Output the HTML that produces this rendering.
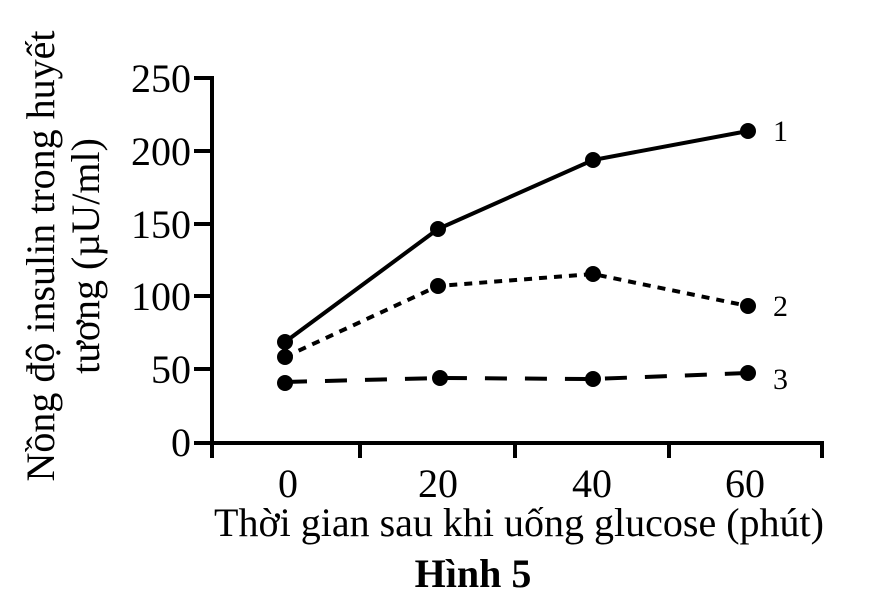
<!DOCTYPE html>
<html><head><style>body{margin:0;background:#fff}svg{display:block}</style></head><body>
<svg width="873" height="615" xmlns="http://www.w3.org/2000/svg" font-family="Liberation Serif, serif" fill="#000">
<g stroke="#000" stroke-width="4" fill="none">
<line x1="212" y1="76" x2="212" y2="445"/>
<line x1="194" y1="443" x2="824" y2="443"/>
<line x1="194" y1="78" x2="212" y2="78"/>
<line x1="194" y1="151" x2="212" y2="151"/>
<line x1="194" y1="224" x2="212" y2="224"/>
<line x1="194" y1="296" x2="212" y2="296"/>
<line x1="194" y1="369" x2="212" y2="369"/>
<line x1="212" y1="443" x2="212" y2="458"/>
<line x1="360" y1="443" x2="360" y2="458"/>
<line x1="515" y1="443" x2="515" y2="458"/>
<line x1="669" y1="443" x2="669" y2="458"/>
<line x1="822" y1="443" x2="822" y2="458"/>
</g>
<g font-size="40" text-anchor="end">
<text x="191" y="92">250</text><text x="191" y="165">200</text><text x="191" y="238">150</text>
<text x="191" y="310">100</text><text x="191" y="383">50</text><text x="191" y="456">0</text>
</g>
<g font-size="40" text-anchor="middle">
<text x="288" y="497">0</text><text x="438" y="497">20</text><text x="592" y="497">40</text><text x="745" y="497">60</text>
<text x="519" y="536">Thời gian sau khi uống glucose (phút)</text>
<text x="473" y="587" font-weight="bold">Hình 5</text>
</g>
<text transform="translate(54,256) rotate(-90)" font-size="40" text-anchor="middle">Nồng độ insulin trong huyết</text>
<text transform="translate(99,256) rotate(-90)" font-size="40" text-anchor="middle">tương (µU/ml)</text>
<g stroke="#000" fill="none" stroke-width="4">
<polyline points="285,342 438,229 593,160 748,131"/>
<polyline points="285,357 438,286 593,274 748,306" stroke-dasharray="8,7"/>
<polyline points="285,382 440,378 593,379 748,373" stroke-dasharray="22,18"/>
</g>
<g>
<circle cx="285" cy="342" r="8"/><circle cx="438" cy="229" r="8"/><circle cx="593" cy="160" r="8"/><circle cx="748" cy="131" r="8"/>
<circle cx="285" cy="357" r="8"/><circle cx="438" cy="286" r="8"/><circle cx="593" cy="274" r="8"/><circle cx="748" cy="306" r="8"/>
<circle cx="285" cy="383" r="8"/><circle cx="440" cy="378" r="8"/><circle cx="593" cy="379" r="8"/><circle cx="748" cy="373" r="8"/>
</g>
<g font-size="30">
<text x="773" y="141">1</text><text x="773" y="316">2</text><text x="773" y="389">3</text>
</g>
</svg>
</body></html>
